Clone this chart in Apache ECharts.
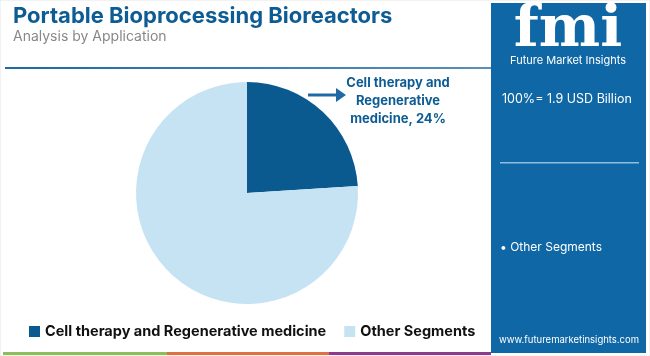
<!DOCTYPE html>
<html><head><meta charset="utf-8">
<script src="https://cdn.jsdelivr.net/npm/echarts@6/dist/echarts.min.js"></script>
<style>html,body{margin:0;padding:0;background:#fff}#c{width:650px;height:356px}</style>
</head><body><div id="c"></div>
<script>
const categories = ["Cell therapy and Regenerative medicine", "Other Segments"];
const shares = [24, 76];
const totalLabel = "100%= 1.9 USD Billion";
const title = "Portable Bioprocessing Bioreactors";
const subtitle = "Analysis by Application";
const colors = ["#0b5a8f", "#c6e3f3"];

const chart = echarts.init(document.getElementById('c'), null, {renderer:'canvas'});
const F = "Inter, 'Open Sans', sans-serif";
chart.setOption({
  animation:false,
  color: colors,
  legend:{
    bottom:12, left:24, itemWidth:11, itemHeight:11, itemGap:18, icon:'rect',
    textStyle:{fontFamily:F, fontSize:14.5, fontWeight:'bold', color:'#111'},
    data:categories
  },
  series:[{
    type:'pie', center:[247,193], radius:111, startAngle:90, clockwise:true,
    label:{show:false}, labelLine:{show:false},
    data: categories.map((c,i)=>({name:c, value:shares[i]}))
  }],
  graphic:[
    {type:'rect', shape:{x:0,y:0,width:650,height:356}, style:{fill:'none', stroke:'#e6e6e6', lineWidth:1}, z:-1},
    {type:'text', left:13, top:5, style:{text:title, font:"bold 22px "+F, fill:'#0d5c93'}},
    {type:'text', left:13, top:30, style:{text:subtitle, font:"14px "+F, fill:'#888'}},
    {type:'rect', shape:{x:5,y:67,width:486,height:2}, style:{fill:new echarts.graphic.LinearGradient(0,0,1,0,[{offset:0,color:'#1f6aa0'},{offset:1,color:'#5a8fb8'}])}},
    {type:'text', style:{text:"Cell therapy and\nRegenerative\nmedicine, "+shares[0]+"%", x:398, y:74, font:"bold 13px "+F, fill:'#0d5c93', align:'center', lineHeight:18}},
    {type:'line', shape:{x1:308,y1:95,x2:338,y2:95}, style:{stroke:'#1f6aa6', lineWidth:3}},
    {type:'polygon', shape:{points:[[336,88],[346,95],[336,102]]}, style:{fill:'#1f6aa6'}},
    {type:'rect', shape:{x:491,y:3,width:155,height:350}, style:{fill:'#0f67a6'}},
    {type:'text', style:{text:'fmi', x:568, y:2, font:"bold 58px Georgia, 'DejaVu Serif', serif", fill:'#fff', align:'center'}},
    {type:'text', style:{text:'Future Market Insights', x:568, y:55, font:"11px "+F, fill:'#fff', align:'center'}},
    {type:'text', style:{text:totalLabel, x:502, y:93, font:"12.5px "+F, fill:'#fff'}},
    {type:'rect', shape:{x:500,y:162,width:139,height:1.5}, style:{fill:'#8fbde0'}},
    {type:'text', style:{text:'• '+categories[1], x:500, y:241, font:"12px "+F, fill:'#fff'}},
    {type:'text', style:{text:'www.futuremarketinsights.com', x:569, y:335, font:"9.5px "+F, fill:'#fff', align:'center'}},
    {type:'rect', shape:{x:3,y:352,width:164,height:3}, style:{fill:'#8cbf5a'}},
    {type:'rect', shape:{x:167,y:352,width:162,height:3}, style:{fill:'#e0703f'}},
    {type:'rect', shape:{x:329,y:352,width:162,height:3}, style:{fill:'#8e3a8e'}}
  ]
});
</script></body></html>
